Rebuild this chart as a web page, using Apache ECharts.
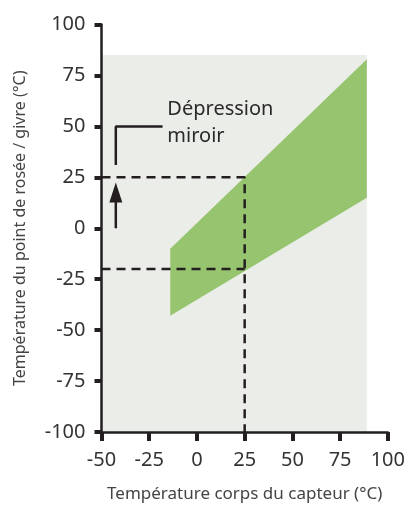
<!DOCTYPE html>
<html>
<head>
<meta charset="utf-8">
<script src="https://cdn.jsdelivr.net/npm/echarts@6/dist/echarts.min.js"></script>
<style>
html,body{margin:0;padding:0;background:#fff;}
#c{width:408px;height:508px;}
</style>
</head>
<body>
<div id="c"></div>
<script>
// ---- data ----
const xTicks = [-50, -25, 0, 25, 50, 75, 100];
const yTicks = [-100, -75, -50, -25, 0, 25, 50, 75, 100];
const plotAreaX = [-50, 89];
const plotAreaY = [-100, 85];
const bandX = [-14, 89];
const bandUpper = [-10, 83];
const bandLower = [-43, 15];
const guideSensor = 25;
const guideDewUpper = 25;
const guideDewLower = -20;
const bracketPts = [[-42.5, 31], [-42.5, 50], [-18, 50]];
const arrowPts = [[-42.5, 0], [-42.5, 22.5]];
const noteAnchor = [-15.5, 52];
const noteText = 'Dépression\nmiroir';
const xTitle = 'Température corps du capteur (°C)';
const yTitle = 'Température du point de rosée / givre (°C)';

const FONT = 'Noto Sans';
const INK = '#231f20';

const bandPoly = [
  [bandX[0], bandUpper[0]], [bandX[1], bandUpper[1]],
  [bandX[1], bandLower[1]], [bandX[0], bandLower[0]]
];
const bgPoly = [
  [plotAreaX[0], plotAreaY[0]], [plotAreaX[0], plotAreaY[1]],
  [plotAreaX[1], plotAreaY[1]], [plotAreaX[1], plotAreaY[0]]
];

function polySeries(pts, color, z) {
  return {
    type: 'custom', z: z, silent: true,
    data: [0],
    renderItem: function (params, api) {
      return {
        type: 'polygon',
        shape: { points: pts.map(p => api.coord(p)) },
        style: { fill: color }
      };
    }
  };
}

const chart = echarts.init(document.getElementById('c'), null, { renderer: 'canvas' });
chart.setOption({
  animation: false,
  textStyle: { fontFamily: FONT },
  grid: { left: 101.5, right: 19.7, top: 24.5, bottom: 65, containLabel: false },
  xAxis: {
    type: 'value', min: xTicks[0], max: xTicks[xTicks.length - 1], interval: 25,
    name: xTitle, nameLocation: 'middle', nameGap: 54,
    nameTextStyle: { fontSize: 17, color: '#444', fontFamily: FONT },
    axisLine: { show: true, onZero: false, lineStyle: { color: INK, width: 2.5 } },
    axisTick: { show: true, length: 9, lineStyle: { color: INK, width: 4 } },
    axisLabel: { fontSize: 20, color: '#333', margin: 18, fontFamily: FONT },
    splitLine: { show: false }
  },
  yAxis: {
    type: 'value', min: yTicks[0], max: yTicks[yTicks.length - 1], interval: 25,
    name: yTitle, nameLocation: 'middle', nameGap: 73,
    nameTextStyle: { fontSize: 16, color: '#444', fontFamily: FONT },
    axisLine: { show: true, onZero: false, lineStyle: { color: INK, width: 2.5 } },
    axisTick: { show: true, length: 7, lineStyle: { color: INK, width: 4 } },
    axisLabel: { fontSize: 20, color: '#333', margin: 16, fontFamily: FONT },
    splitLine: { show: false }
  },
  series: [
    polySeries(bgPoly, '#ebede8', -1),
    polySeries(bandPoly, '#97c46f', 1),
    {
      type: 'line', z: 3, symbol: 'none', silent: true,
      data: [[xTicks[0], guideDewUpper], [guideSensor, guideDewUpper], [guideSensor, yTicks[0]]],
      lineStyle: { color: INK, width: 2.5, type: [9, 6] }
    },
    {
      type: 'line', z: 3, symbol: 'none', silent: true,
      data: [[xTicks[0], guideDewLower], [guideSensor, guideDewLower]],
      lineStyle: { color: INK, width: 2.5, type: [9, 6] }
    },
    {
      type: 'line', z: 3, symbol: 'none', silent: true,
      data: bracketPts,
      lineStyle: { color: INK, width: 2.5 }
    },
    {
      type: 'line', z: 3, symbol: 'none', silent: true,
      data: [arrowPts[0], [arrowPts[1][0], arrowPts[1][1] - 4]],
      lineStyle: { color: INK, width: 2.5 }
    },
    {
      type: 'scatter', z: 4, silent: true,
      data: [arrowPts[1]],
      symbol: 'triangle', symbolSize: [13, 20], symbolOffset: [0, '50%'],
      itemStyle: { color: INK, opacity: 1 }
    },
    {
      type: 'scatter', z: 4, silent: true,
      data: [noteAnchor], symbolSize: 0,
      itemStyle: { opacity: 1 },
      label: {
        show: true, position: 'right', distance: 0,
        formatter: noteText, fontSize: 20, lineHeight: 27,
        color: '#2a2a2a', fontFamily: FONT, align: 'left'
      }
    }
  ]
});
</script>
</body>
</html>
